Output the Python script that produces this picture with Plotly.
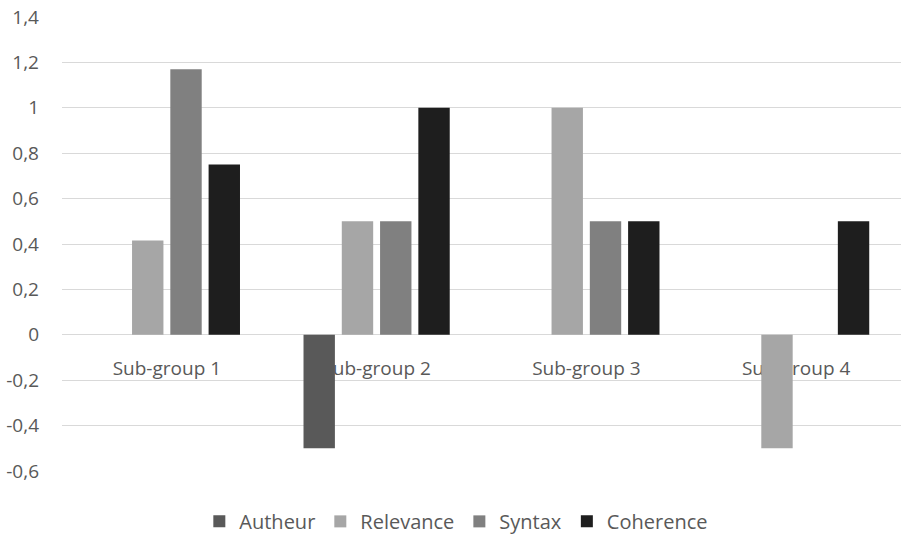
import plotly.graph_objects as go

categories = ["Sub-group 1", "Sub-group 2", "Sub-group 3", "Sub-group 4"]
autheur = [0, -0.5, 0, 0]
relevance = [0.415, 0.5, 1.0, -0.5]
syntax = [1.17, 0.5, 0.5, 0]
coherence = [0.75, 1.0, 0.5, 0.5]

series = [
    ("Autheur", autheur, "#595959"),
    ("Relevance", relevance, "#a6a6a6"),
    ("Syntax", syntax, "#808080"),
    ("Coherence", coherence, "#1e1e1e"),
]

tick_vals = [-0.6, -0.4, -0.2, 0, 0.2, 0.4, 0.6, 0.8, 1.0, 1.2, 1.4]
tick_text = ["-0,6", "-0,4", "-0,2", "0", "0,2", "0,4", "0,6", "0,8", "1", "1,2", "1,4"]

fig = go.Figure()
for name, vals, color in series:
    fig.add_trace(go.Bar(x=categories, y=vals, name=name, marker_color=color,
                         marker_line_width=0))

font_family = "Open Sans, Liberation Sans, sans-serif"
y_min, y_max = -0.6, 1.4

fig.update_layout(
    width=902, height=535,
    margin=dict(l=62, r=1, t=17, b=64, autoexpand=False),
    paper_bgcolor="white", plot_bgcolor="white",
    barmode="group", bargap=0.27, bargroupgap=0.18,
    font=dict(family=font_family, size=19, color="#595959"),
    showlegend=True,
    legend=dict(orientation="h", x=0.47, xanchor="center", y=-0.068, yanchor="top",
                font=dict(size=20, color="#595959"),
                traceorder="normal"),
    xaxis=dict(anchor="free", position=(0 - y_min) / (y_max - y_min),
               showline=False, ticks="", layer="below traces",
               tickfont=dict(size=19, color="#595959"), ticklabelstandoff=20),
    yaxis=dict(range=[y_min, y_max], tickvals=tick_vals, ticktext=tick_text,
               showgrid=True, gridcolor="#d9d9d9", gridwidth=1,
               zeroline=True, zerolinecolor="#d9d9d9", zerolinewidth=1,
               showline=False, ticks="", ticklabelstandoff=22,
               tickfont=dict(size=19, color="#595959")),
)

fig.write_html("out.html")
